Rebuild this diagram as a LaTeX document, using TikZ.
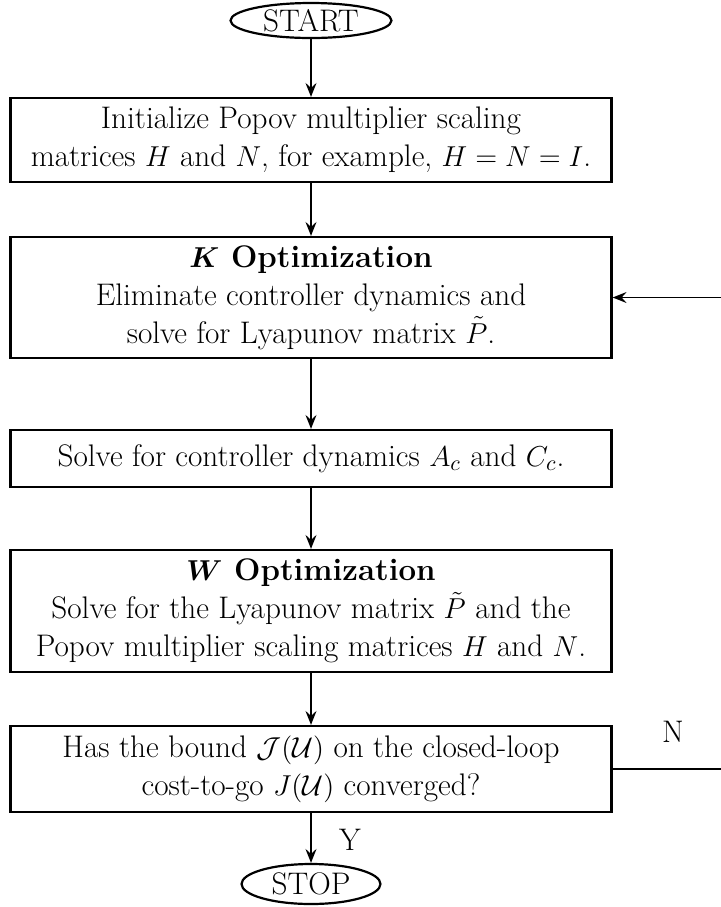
\documentclass[tikz,border=0pt]{standalone}
\usetikzlibrary{arrows.meta,shapes.geometric}
\begin{document}
\begin{tikzpicture}[x=0.5pt,y=-0.5pt,
  every node/.style={font=\fontsize{15.6}{19}\selectfont},
  stepbox/.style={draw,line width=1.1pt,minimum width=300.5pt,inner sep=0pt,align=center},
  term/.style={draw,ellipse,line width=1.1pt,inner sep=0pt},
  flow/.style={line width=0.8pt,-{Stealth[length=7pt,width=5.5pt,inset=2.5pt]}},
  lbl/.style={inner sep=0pt}]
\useasboundingbox (0,0) rectangle (721,907);
\node[term,minimum width=80.5pt,minimum height=17.5pt] (start) at (311,20.5) {START};
\node[stepbox,minimum height=42pt] (init) at (311,140)
  {Initialize Popov multiplier scaling\\matrices $H$ and $N$, for example, $H=N=I$.};
\node[stepbox,minimum height=60.5pt] (kopt) at (311,297.5)
  {\textbf{\boldmath$K$ Optimization}\\Eliminate controller dynamics and\\solve for Lyapunov matrix $\tilde{P}$.};
\node[stepbox,minimum height=28.5pt] (solve) at (311,458.5)
  {Solve for controller dynamics $A_c$ and $C_c$.};
\node[stepbox,minimum height=61pt] (wopt) at (311,611)
  {\textbf{\boldmath$W$ Optimization}\\Solve for the Lyapunov matrix $\tilde{P}$ and the\\Popov multiplier scaling matrices $H$ and $N$.};
\node[stepbox,minimum height=43pt] (dec) at (311,769)
  {Has the bound $\mathcal{J}(\mathcal{U})$ on the closed-loop\\cost-to-go $J(\mathcal{U})$ converged?};
\node[term,minimum width=69.5pt,minimum height=20pt] (stop) at (311,884) {STOP};
\draw[flow] (start) -- (init);
\draw[flow] (init) -- (kopt);
\draw[flow] (kopt) -- (solve);
\draw[flow] (solve) -- (wopt);
\draw[flow] (wopt) -- (dec);
\draw[flow] (dec) -- (stop);
\coordinate (rt) at (740,769);
\coordinate (rk) at (740,297.5);
\draw[flow] (dec.east) -- (rt) -- (rk) -- (kopt.east);
\node[lbl] (nlbl) at (673,732) {N};
\node[lbl] (ylbl) at (350,840) {Y};
\end{tikzpicture}
\end{document}
